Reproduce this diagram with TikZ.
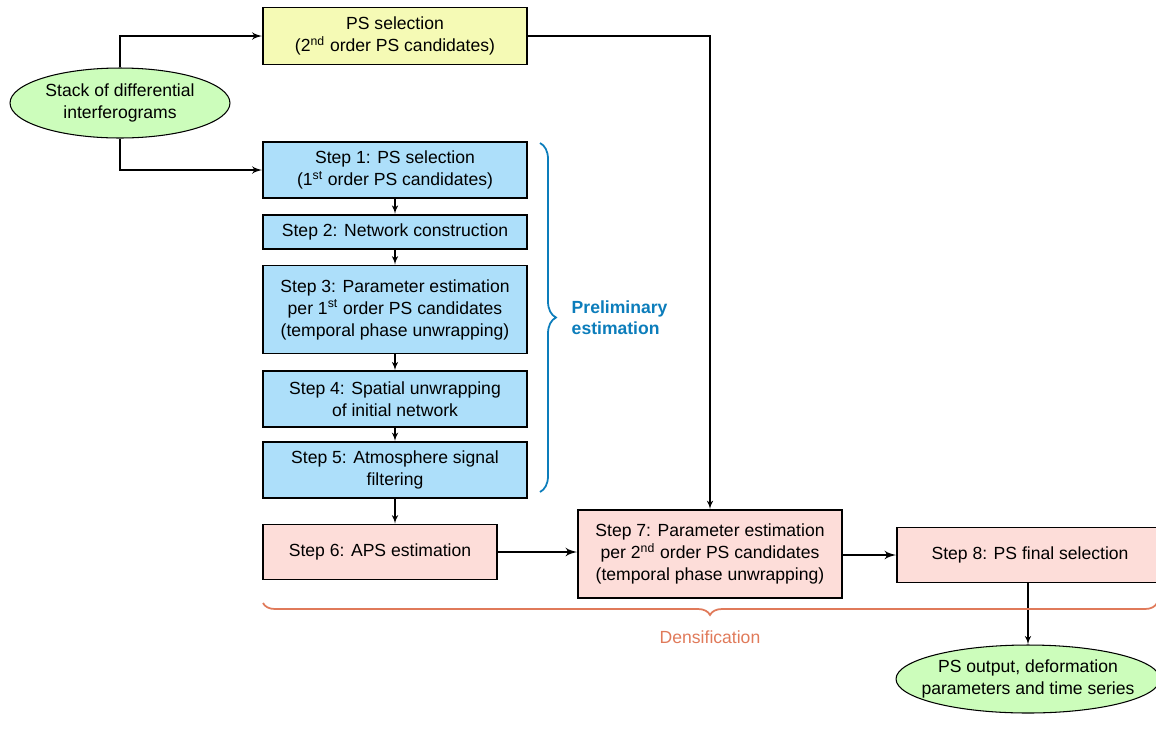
\documentclass[tikz,border=0pt]{standalone}
\usepackage{fontspec}
\setmainfont{Liberation Sans}
\usepackage{tikz}
\usepackage{xcolor}
\usetikzlibrary{positioning}
\usetikzlibrary{shapes, arrows}
\usetikzlibrary{decorations.pathreplacing}
\definecolor{selyellow}{HTML}{F5FAB5}
\definecolor{stepblue}{HTML}{ADDFFA}
\definecolor{steppink}{HTML}{FDDDD9}
\definecolor{termgreen}{HTML}{CCFDBB}
\definecolor{braceblue}{HTML}{0C7DBB}
\definecolor{braceorange}{HTML}{E07A5A}
\tikzstyle{block} = [rectangle, draw, line width=1pt, align=center, inner sep=2pt,
minimum width=5.28cm, font=\fontsize{10}{12.5}\selectfont]
\tikzstyle{prelim} = [block, fill=stepblue]
\tikzstyle{dense} = [block, fill=steppink]
\tikzstyle{term} = [ellipse, draw, line width=0.6pt, fill=termgreen, align=center,
inner sep=0pt, font=\fontsize{10}{12.5}\selectfont]
\tikzstyle{line} = [draw, line width=0.7pt, -latex']
\tikzstyle{thickline} = [line, line width=1.3pt]
\tikzstyle{bracket} = [decorate, line width=1pt]

\begin{document}
\begin{tikzpicture}[x=0.02cm, y=-0.02cm]
	\useasboundingbox (0,0) rectangle (1156,728);
	
	% Place nodes
	\node [term, minimum width=4.4cm, minimum height=1.4cm] (Stack) at (120,103) {Stack of differential\\interferograms};
	\node [block, fill=selyellow, minimum height=1.14cm] (PS Selection) at (395,36) {PS selection\\(2\textsuperscript{nd} order PS candidates)};
	\node [prelim, minimum height=1.12cm] (Step 1) at (395,170) {Step 1: PS selection\\(1\textsuperscript{st} order PS candidates)};
	\node [prelim, minimum height=0.68cm, below=0.3cm of Step 1] (Step 2) {Step 2: Network construction};
	\node [prelim, minimum height=1.76cm, below=0.3cm of Step 2] (Step 3) {Step 3: Parameter estimation\\per 1\textsuperscript{st} order PS candidates\\(temporal phase unwrapping)};
	\node [prelim, minimum height=1.12cm, below=0.32cm of Step 3] (Step 4) {Step 4: Spatial unwrapping\\of initial network};
	\node [prelim, minimum height=1.12cm, below=0.26cm of Step 4] (Step 5) {Step 5: Atmosphere signal\\filtering};
	\node [dense, minimum width=4.68cm, minimum height=1.1cm] (Step 6) at (380,552) {Step 6: APS estimation};
	\node [dense, minimum height=1.76cm] (Step 7) at (710,554) {Step 7: Parameter estimation\\per 2\textsuperscript{nd} order PS candidates\\(temporal phase unwrapping)};
	\node [dense, minimum width=5.32cm, minimum height=1.1cm] (Step 8) at (1030,555) {Step 8: PS final selection};
	\node [term, inner xsep=-0.5cm, minimum width=5.28cm, minimum height=1.36cm] (Output) at (1028,679) {PS output, deformation\\parameters and time series};
	
	% Draw edges
	\path [line, line width=1pt] (Stack.north) |- (PS Selection.west);
	\path [line, line width=1pt] (Stack.south) |- (Step 1.west);
	\path [line] (Step 1) -- (Step 2);
	\path [line] (Step 2) -- (Step 3);
	\path [line] (Step 3) -- (Step 4);
	\path [line] (Step 4) -- (Step 5);
	\path [line] (Step 5.south) -- (Step 5.south |- Step 6.north);
	\path [line] (PS Selection.east) -| (Step 7.north);
	\path [thickline] (Step 6.east) -- (Step 6.east -| Step 7.west);
	\path [thickline] (Step 7.east |- Step 8.west) -- (Step 8.west);
	\path [line] (Step 8.south -| Output.north) -- (Output.north);
	
	% Braces
	\coordinate (Prelim Top) at (540,143);
	\coordinate (Prelim Bottom) at (540,492);
	\draw [bracket, braceblue, decoration={brace, amplitude=0.32cm}] (Prelim Top) -- (Prelim Bottom)
		node [midway, right=0.5cm, align=left, font=\fontsize{10}{12}\bfseries] (Prelim Label) {Preliminary\\estimation};
	\coordinate (Dense Right) at (1157,603);
	\coordinate (Dense Left) at (263,603);
	\draw [bracket, braceorange, decoration={brace, amplitude=0.24cm}] (Dense Right) -- (Dense Left)
		node [midway, below=0.42cm, font=\fontsize{10}{12}\selectfont] (Dense Label) {Densification};
	
\end{tikzpicture}
\end{document}
